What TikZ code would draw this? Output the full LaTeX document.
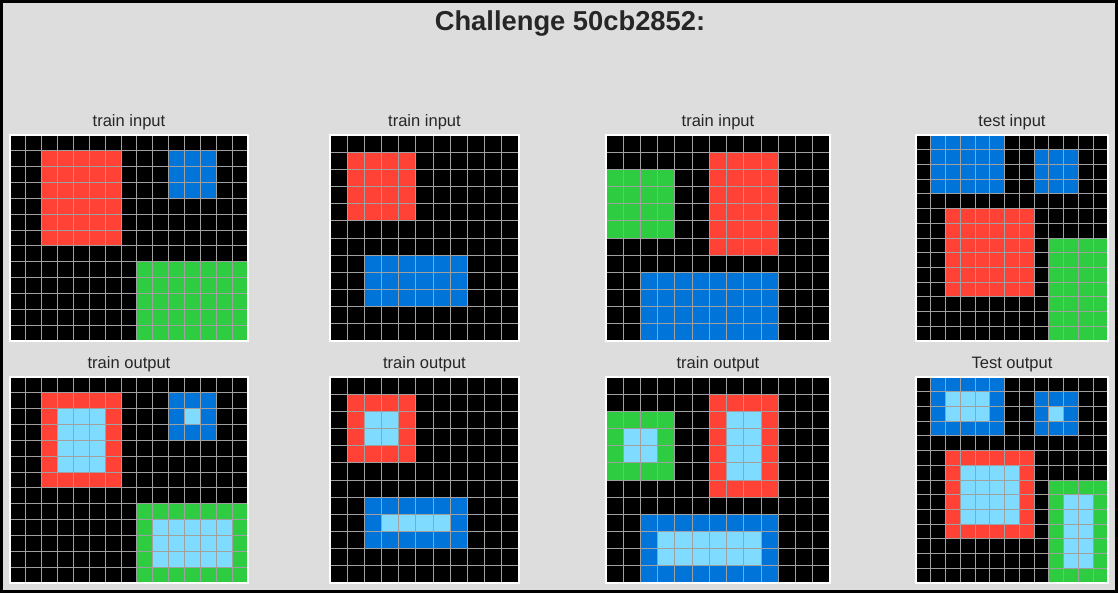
\documentclass[tikz,border=0pt]{standalone}
\usepackage{fontspec}
\setmainfont{Liberation Sans}

\definecolor{bgcol}{HTML}{DDDDDD}
\definecolor{txtcol}{HTML}{262626}
\definecolor{arcred}{HTML}{FF4136}
\definecolor{arcblue}{HTML}{0074D9}
\definecolor{arcgreen}{HTML}{2ECC40}
\definecolor{arclight}{HTML}{7FDBFF}
\definecolor{linecol}{HTML}{A0A0A0}

\tikzset{
  gridline/.style={draw=linecol, line width=0.75pt},
  gridframe/.style={draw=white, line width=1.1pt},
  panellabel/.style={anchor=base, text=txtcol, font=\fontsize{12.4}{14}\selectfont},
}

% gray lines and white frame of a cols x rows grid
\newcommand{\gridlines}[2]{%
  \foreach \i in {1,...,#1} \draw[gridline] (\i,0) -- (\i,#2);
  \foreach \j in {1,...,#2} \draw[gridline] (0,\j) -- (#1,\j);
  \draw[gridframe] (0,0) rectangle (#1,#2);
}

\begin{document}
\begin{tikzpicture}[x=0.75pt, y=-0.75pt]
    % Background
    \fill[black] (0,0) rectangle (1118,593);
    \fill[bgcol] (3,3) rectangle (1115,590);
    \useasboundingbox (0,0) rectangle (1118,593);

    % Title
    \node[anchor=base, text=txtcol, font=\fontsize{20.5}{24}\selectfont\bfseries] (title) at (570,30) {Challenge 50cb2852:};

    % Labels
    \node[panellabel] (in1) at (129,126) {train input};
    \node[panellabel] (in2) at (424.5,126) {train input};
    \node[panellabel] (in3) at (718,126) {train input};
    \node[panellabel] (in4) at (1012,126) {test input};
    \node[panellabel] (out1) at (129,368) {train output};
    \node[panellabel] (out2) at (424.5,368) {train output};
    \node[panellabel] (out3) at (718,368) {train output};
    \node[panellabel] (out4) at (1012,368) {Test output};

    % Pair 1
    \begin{scope}[shift={(10,135)}, x=11.9pt, y=-11.885pt]
      \fill[black] (0,0) rectangle (15,13);
      \fill[arcred] (2,1) rectangle (7,7);
      \fill[arcblue] (10,1) rectangle (13,4);
      \fill[arcgreen] (8,8) rectangle (15,13);
      \gridlines{15}{13}
    \end{scope}
    \begin{scope}[shift={(10,377)}, x=11.9pt, y=-11.885pt]
      \fill[black] (0,0) rectangle (15,13);
      \fill[arcred] (2,1) rectangle (7,7);
      \fill[arcblue] (10,1) rectangle (13,4);
      \fill[arcgreen] (8,8) rectangle (15,13);
      \fill[arclight] (3,2) rectangle (6,6);
      \fill[arclight] (11,2) rectangle (12,3);
      \fill[arclight] (9,9) rectangle (14,12);
      \gridlines{15}{13}
    \end{scope}

    % Pair 2
    \begin{scope}[shift={(330,135)}, x=12.886pt, y=-12.875pt]
      \fill[black] (0,0) rectangle (11,12);
      \fill[arcred] (1,1) rectangle (5,5);
      \fill[arcblue] (2,7) rectangle (8,10);
      \gridlines{11}{12}
    \end{scope}
    \begin{scope}[shift={(330,377)}, x=12.886pt, y=-12.875pt]
      \fill[black] (0,0) rectangle (11,12);
      \fill[arcred] (1,1) rectangle (5,5);
      \fill[arcblue] (2,7) rectangle (8,10);
      \fill[arclight] (2,2) rectangle (4,4);
      \fill[arclight] (3,8) rectangle (7,9);
      \gridlines{11}{12}
    \end{scope}

    % Pair 3
    \begin{scope}[shift={(606,135)}, x=12.923pt, y=-12.875pt]
      \fill[black] (0,0) rectangle (13,12);
      \fill[arcgreen] (0,2) rectangle (4,6);
      \fill[arcred] (6,1) rectangle (10,7);
      \fill[arcblue] (2,8) rectangle (10,12);
      \gridlines{13}{12}
    \end{scope}
    \begin{scope}[shift={(606,377)}, x=12.923pt, y=-12.875pt]
      \fill[black] (0,0) rectangle (13,12);
      \fill[arcgreen] (0,2) rectangle (4,6);
      \fill[arcred] (6,1) rectangle (10,7);
      \fill[arcblue] (2,8) rectangle (10,12);
      \fill[arclight] (1,3) rectangle (3,5);
      \fill[arclight] (7,2) rectangle (9,6);
      \fill[arclight] (3,9) rectangle (9,11);
      \gridlines{13}{12}
    \end{scope}

    % Test
    \begin{scope}[shift={(916,135)}, x=11.077pt, y=-11.036pt]
      \fill[black] (0,0) rectangle (13,14);
      \fill[arcblue] (1,0) rectangle (6,4);
      \fill[arcblue] (8,1) rectangle (11,4);
      \fill[arcred] (2,5) rectangle (8,11);
      \fill[arcgreen] (9,7) rectangle (13,14);
      \gridlines{13}{14}
    \end{scope}
    \begin{scope}[shift={(916,377)}, x=11.077pt, y=-11.036pt]
      \fill[black] (0,0) rectangle (13,14);
      \fill[arcblue] (1,0) rectangle (6,4);
      \fill[arcblue] (8,1) rectangle (11,4);
      \fill[arcred] (2,5) rectangle (8,11);
      \fill[arcgreen] (9,7) rectangle (13,14);
      \fill[arclight] (2,1) rectangle (5,3);
      \fill[arclight] (9,2) rectangle (10,3);
      \fill[arclight] (3,6) rectangle (7,10);
      \fill[arclight] (10,8) rectangle (12,13);
      \gridlines{13}{14}
    \end{scope}
\end{tikzpicture}
\end{document}
